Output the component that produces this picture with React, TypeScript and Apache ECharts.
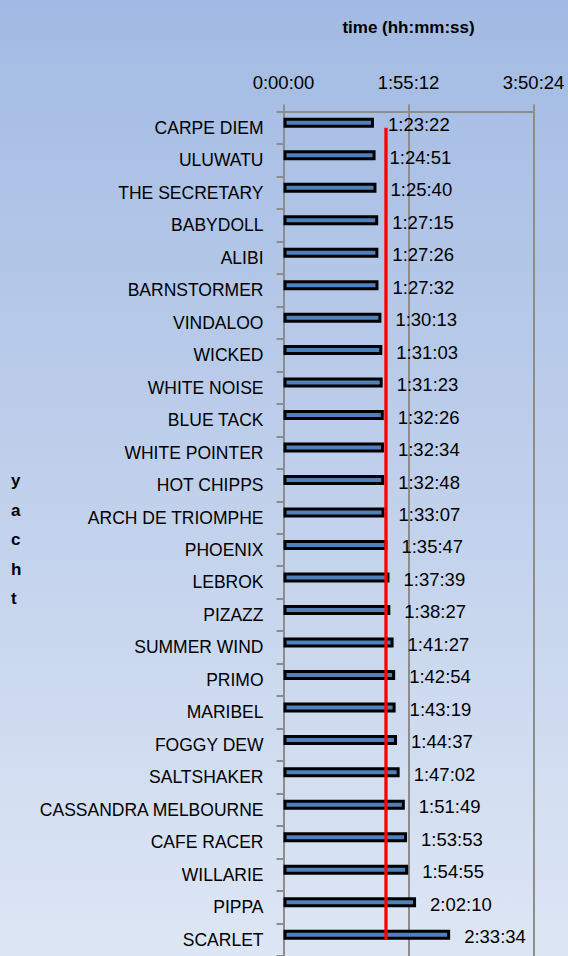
import React, { useEffect, useRef } from "react";
import * as echarts from "echarts";

const yachts = [
  "CARPE DIEM", "ULUWATU", "THE SECRETARY", "BABYDOLL", "ALIBI", "BARNSTORMER",
  "VINDALOO", "WICKED", "WHITE NOISE", "BLUE TACK", "WHITE POINTER", "HOT CHIPPS",
  "ARCH DE TRIOMPHE", "PHOENIX", "LEBROK", "PIZAZZ", "SUMMER WIND", "PRIMO",
  "MARIBEL", "FOGGY DEW", "SALTSHAKER", "CASSANDRA MELBOURNE", "CAFE RACER",
  "WILLARIE", "PIPPA", "SCARLET",
];

const times = [
  "1:23:22", "1:24:51", "1:25:40", "1:27:15", "1:27:26", "1:27:32",
  "1:30:13", "1:31:03", "1:31:23", "1:32:26", "1:32:34", "1:32:48",
  "1:33:07", "1:35:47", "1:37:39", "1:38:27", "1:41:27", "1:42:54",
  "1:43:19", "1:44:37", "1:47:02", "1:51:49", "1:53:53", "1:54:55",
  "2:02:10", "2:33:34",
];

const referenceTime = "1:34:27";
const axisMax = "3:50:24";
const axisStep = "1:55:12";

const toSec = (t: string) => {
  const [h, m, s] = t.split(":").map(Number);
  return h * 3600 + m * 60 + s;
};
const fmt = (v: number) => {
  const h = Math.floor(v / 3600);
  const m = Math.floor((v % 3600) / 60);
  const s = Math.round(v % 60);
  return `${h}:${String(m).padStart(2, "0")}:${String(s).padStart(2, "0")}`;
};

const FONT = "Liberation Sans";
const GRID_COLOR = "#8d8d8d";

export default function App() {
  const ref = useRef<HTMLDivElement>(null);
  useEffect(() => {
    if (!ref.current) return;
    const chart = echarts.init(ref.current, undefined, { renderer: "svg" });
    const values = times.map(toSec);
    const ref_v = toSec(referenceTime);
    chart.setOption({
      animation: false,
      backgroundColor: new echarts.graphic.LinearGradient(0, 0, 0, 1, [
        { offset: 0, color: "#a2bae3" },
        { offset: 1, color: "#dde6f4" },
      ]),
      textStyle: { fontFamily: FONT },
      grid: { left: 283.5, top: 111.5, width: 250, height: 851.5 },
      xAxis: {
        type: "value",
        position: "top",
        min: 0,
        max: toSec(axisMax),
        interval: toSec(axisStep),
        name: "time (hh:mm:ss)",
        nameLocation: "middle",
        nameGap: 76,
        nameTextStyle: { fontFamily: FONT, fontWeight: "bold", fontSize: 17, color: "#000" },
        axisLine: { show: true, lineStyle: { color: GRID_COLOR, width: 2 } },
        axisTick: { show: true, length: 7, lineStyle: { color: GRID_COLOR, width: 2 } },
        splitLine: { show: true, lineStyle: { color: GRID_COLOR, width: 2 } },
        axisLabel: {
          formatter: (v: number) => fmt(v),
          fontFamily: FONT,
          fontSize: 18.5,
          color: "#000",
          margin: 20,
        },
      },
      yAxis: {
        type: "category",
        inverse: true,
        data: yachts,
        axisLine: { show: true, lineStyle: { color: GRID_COLOR, width: 2 } },
        axisTick: { show: true, length: 7, lineStyle: { color: GRID_COLOR, width: 2 } },
        axisLabel: { fontFamily: FONT, fontSize: 17.5, color: "#000", margin: 20 },
      },
      graphic: [
        {
          type: "text",
          left: 11,
          top: 466,
          style: {
            text: "y\na\nc\nh\nt",
            fontFamily: FONT,
            fontWeight: "bold",
            fontSize: 17,
            lineHeight: 29.5,
            fill: "#000",
            align: "center",
          },
        },
      ],
      series: [
        {
          type: "bar",
          data: values,
          barWidth: 10,
          barGap: "0%",
          itemStyle: { color: "#4f81bd", borderColor: "#000", borderWidth: 3 },
          label: {
            show: true,
            position: "right",
            distance: 14,
            offset: [0, 2],
            formatter: (p: any) => fmt(p.value),
            fontFamily: FONT,
            fontSize: 18.5,
            color: "#000",
          },
          z: 2,
        },
        { type: "bar", data: [], barWidth: 10, barGap: "0%" },
        {
          type: "line",
          data: [
            [ref_v, yachts[0]],
            [ref_v, yachts[yachts.length - 1]],
          ],
          symbol: "none",
          lineStyle: { color: "#ff0000", width: 3.3 },
          z: 3,
        },
      ],
    });
    return () => chart.dispose();
  }, []);
  return (
    <div
      ref={ref}
      style={{ position: "fixed", left: 0, top: 0, width: 568, height: 956 }}
    />
  );
}
